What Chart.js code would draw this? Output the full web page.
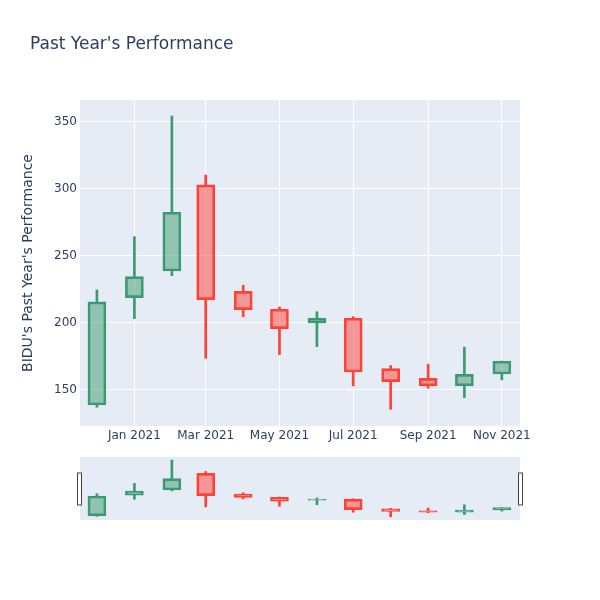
<!DOCTYPE html>
<html lang="en">
<head>
    <meta charset="UTF-8">
    <title>Past Year's Performance</title>
    <style>
        body {
            margin: 0;
            background: #fff;
            font-family: "DejaVu Sans", sans-serif;
        }
        .wrap {
            position: relative;
            width: 600px;
            height: 600px;
        }
        #mainChart {
            position: absolute;
            left: 0;
            top: 0;
        }
        #sliderChart {
            position: absolute;
            left: 70px;
            top: 450px;
        }
    </style>
    <script src="https://cdn.jsdelivr.net/npm/chart.js"></script>
</head>
<body>
    <div class="wrap">
        <canvas id="mainChart" width="600" height="600"></canvas>
        <canvas id="sliderChart" width="460" height="80"></canvas>
    </div>

    <script>
        // Monthly candles
        const dates = ['2020-12-01', '2021-01-01', '2021-02-01', '2021-03-01', '2021-04-01', '2021-05-01',
                       '2021-06-01', '2021-07-01', '2021-08-01', '2021-09-01', '2021-10-01', '2021-11-01'];
        const opens  = [138.8, 218.9, 238.8, 303.0, 223.6, 210.2, 200.0, 203.5, 165.9, 158.6, 153.0, 161.9];
        const highs  = [224.6, 264.4, 354.5, 310.4, 228.1, 211.9, 208.4, 204.7, 168.2, 169.2, 181.9, 171.6];
        const lows   = [137.1, 203.2, 235.3, 173.6, 204.7, 176.4, 182.3, 153.0, 135.6, 151.3, 144.3, 157.5];
        const closes = [215.7, 234.6, 282.6, 217.4, 210.0, 195.8, 203.7, 163.4, 156.2, 153.0, 161.6, 171.4];

        // Axis ticks
        const xTickDates = ['2021-01-01', '2021-03-01', '2021-05-01', '2021-07-01', '2021-09-01', '2021-11-01'];
        const xTickLabels = ['Jan 2021', 'Mar 2021', 'May 2021', 'Jul 2021', 'Sep 2021', 'Nov 2021'];
        const yTicks = [150, 200, 250, 300, 350];

        const UP = '#3D9970', UP_FILL = 'rgba(61,153,112,0.5)';
        const DOWN = '#FF4136', DOWN_FILL = 'rgba(255,65,54,0.5)';
        const TEXT = '#2a3f5f';
        const PLOT_BG = '#E5ECF6';
        const FONT = 'DejaVu Sans';

        // days since 2021-01-01, so a linear scale can stand in for time
        const base = Date.UTC(2021, 0, 1);
        function toDay(s) {
            const p = s.split('-');
            return (Date.UTC(+p[0], +p[1] - 1, +p[2]) - base) / 86400000;
        }
        const days = dates.map(toDay);
        const xTickDays = xTickDates.map(toDay);
        const xMin = -45, xMax = 319;
        const yMin = 123.1, yMax = 366.4;

        const isUp = opens.map((o, i) => closes[i] >= o);
        const lineColors = isUp.map(u => u ? UP : DOWN);
        const fillColors = isUp.map(u => u ? UP_FILL : DOWN_FILL);

        function candleDatasets() {
            return [
                {
                    data: days.map((d, i) => ({ x: d, y: [opens[i], closes[i]] })),
                    backgroundColor: fillColors,
                    borderColor: lineColors,
                    borderWidth: 2,
                    borderSkipped: false,
                    barThickness: 18,
                    grouped: false,
                    order: 0
                },
                {
                    data: days.map((d, i) => ({ x: d, y: [Math.max(opens[i], closes[i]), highs[i]] })),
                    backgroundColor: lineColors,
                    borderWidth: 0,
                    barThickness: 2,
                    grouped: false,
                    order: 1
                },
                {
                    data: days.map((d, i) => ({ x: d, y: [lows[i], Math.min(opens[i], closes[i])] })),
                    backgroundColor: lineColors,
                    borderWidth: 0,
                    barThickness: 2,
                    grouped: false,
                    order: 1
                }
            ];
        }

        // paint the plot background
        const plotBg = {
            id: 'plotBg',
            beforeDraw(chart) {
                const a = chart.chartArea, ctx = chart.ctx;
                ctx.save();
                ctx.fillStyle = PLOT_BG;
                ctx.fillRect(a.left, a.top, a.right - a.left, a.bottom - a.top);
                ctx.restore();
            }
        };

        const titlePlugin = {
            id: 'titleText',
            afterDraw(chart) {
                const ctx = chart.ctx;
                ctx.save();
                ctx.font = '17px "' + FONT + '"';
                ctx.fillStyle = TEXT;
                ctx.textBaseline = 'middle';
                ctx.fillText("Past Year's Performance", 30, 45);
                ctx.restore();
            }
        };

        new Chart(document.getElementById('mainChart'), {
            type: 'bar',
            data: { datasets: candleDatasets() },
            options: {
                responsive: false,
                animation: false,
                devicePixelRatio: 1,
                layout: { padding: { top: 100, right: 80, left: 0, bottom: 0 } },
                plugins: { legend: { display: false }, tooltip: { enabled: false } },
                scales: {
                    x: {
                        type: 'linear',
                        min: xMin,
                        max: xMax,
                        offset: false,
                        afterBuildTicks: s => { s.ticks = xTickDays.map(v => ({ value: v })); },
                        afterFit: s => { s.height = 174; },
                        ticks: {
                            callback: (v, i) => xTickLabels[i],
                            color: TEXT,
                            font: { family: FONT, size: 12 },
                            padding: 3,
                            maxRotation: 0
                        },
                        grid: { color: '#fff', lineWidth: 1, drawTicks: false, offset: false },
                        border: { display: false }
                    },
                    y: {
                        min: yMin,
                        max: yMax,
                        afterBuildTicks: s => { s.ticks = yTicks.map(v => ({ value: v })); },
                        afterFit: s => { s.width = 80; },
                        ticks: {
                            color: TEXT,
                            font: { family: FONT, size: 12 },
                            padding: 3
                        },
                        grid: { color: '#fff', lineWidth: 1, drawTicks: false },
                        border: { display: false },
                        title: {
                            display: true,
                            text: "BIDU's Past Year's Performance",
                            color: TEXT,
                            font: { family: FONT, size: 14 },
                            padding: { top: 20, bottom: 0 }
                        }
                    }
                }
            },
            plugins: [plotBg, titlePlugin]
        });

        // range slider grab handles
        const handles = {
            id: 'handles',
            afterDraw(chart) {
                const a = chart.chartArea, ctx = chart.ctx;
                const h = 32, top = (a.top + a.bottom) / 2 - h / 2;
                ctx.save();
                ctx.fillStyle = '#fff';
                ctx.strokeStyle = '#444';
                ctx.lineWidth = 1;
                ctx.fillRect(a.left - 3, top, 4, h);
                ctx.strokeRect(a.left - 2.5, top + 0.5, 4, h);
                ctx.fillRect(a.right - 1, top, 4, h);
                ctx.strokeRect(a.right - 1.5, top + 0.5, 4, h);
                ctx.restore();
            }
        };

        new Chart(document.getElementById('sliderChart'), {
            type: 'bar',
            data: { datasets: candleDatasets() },
            options: {
                responsive: false,
                animation: false,
                devicePixelRatio: 1,
                layout: { padding: { top: 7, right: 10, left: 10, bottom: 10 } },
                plugins: { legend: { display: false }, tooltip: { enabled: false } },
                scales: {
                    x: { type: 'linear', min: xMin, max: xMax, offset: false, display: false, grid: { offset: false } },
                    y: { min: yMin, max: yMax, display: false }
                }
            },
            plugins: [plotBg, handles]
        });
    </script>
</body>
</html>
